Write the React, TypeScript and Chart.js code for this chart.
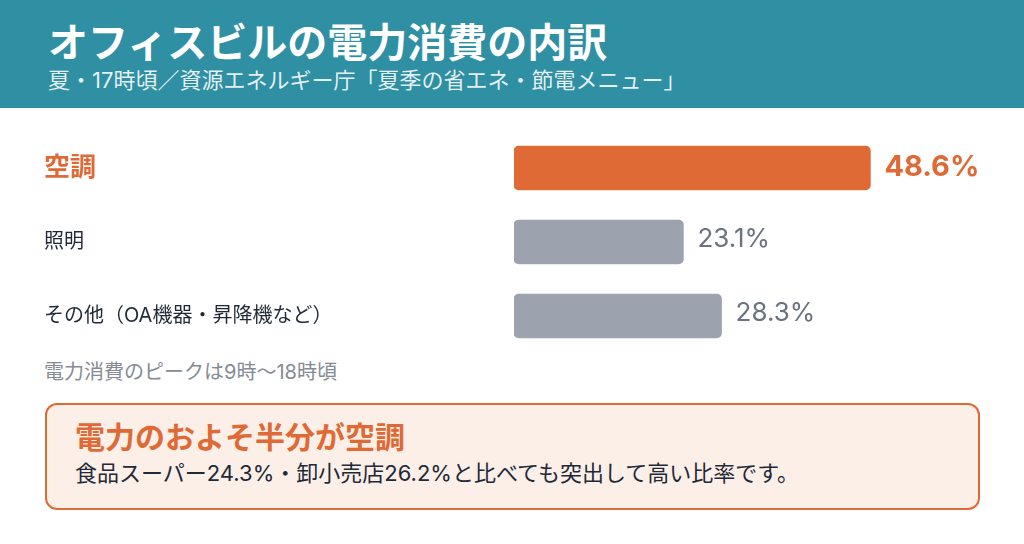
import { useEffect, useRef } from "react";
import Chart from "chart.js/auto";

const categories = ["空調", "照明", "その他（OA機器・昇降機など）"];
const shares = [48.6, 23.1, 28.3];
const valueLabels = ["48.6%", "23.1%", "28.3%"];

const FONT = 'Inter, "Noto Sans CJK JP", "Noto Sans", sans-serif';
const ORANGE = "#e06a35";
const GREY_BAR = "#9ca3af";
const GREY_TEXT = "#6b7280";
const NOTE_GREY = "#858b94";
const DARK = "#1f2937";
const TEAL = "#2f8fa3";

const valueLabelPlugin = {
  id: "valueLabels",
  afterDatasetsDraw(chart: any) {
    const { ctx } = chart;
    const meta = chart.getDatasetMeta(0);
    ctx.save();
    meta.data.forEach((bar: any, i: number) => {
      const first = i === 0;
      ctx.font = `${first ? "bold " : ""}${first ? 29 : 26}px ${FONT}`;
      ctx.fillStyle = first ? ORANGE : GREY_TEXT;
      ctx.textAlign = "left";
      ctx.textBaseline = "middle";
      ctx.fillText(valueLabels[i], bar.x + 14, bar.y - (first ? 1 : 3));
    });
    ctx.restore();
  },
};

export default function App() {
  const canvasRef = useRef<HTMLCanvasElement>(null);

  useEffect(() => {
    document.body.style.margin = "0";
    if (!canvasRef.current) return;

    const chart = new Chart(canvasRef.current, {
      type: "bar",
      data: {
        labels: categories,
        datasets: [
          {
            data: shares,
            backgroundColor: shares.map((_, i) => (i === 0 ? ORANGE : GREY_BAR)),
            borderRadius: 5,
            borderSkipped: false,
            barThickness: 44,
          },
        ],
      },
      options: {
        indexAxis: "y",
        animation: false,
        responsive: false,
        maintainAspectRatio: false,
        layout: { padding: { left: 44, right: 70, top: 0, bottom: 0 } },
        plugins: {
          legend: { display: false },
          tooltip: { enabled: false },
        },
        scales: {
          x: {
            display: false,
            min: 0,
            max: 60,
          },
          y: {
            grid: { display: false },
            border: { display: false },
            afterFit(scale: any) {
              scale.width = 470;
              scale.paddingTop = 0;
              scale.paddingBottom = 0;
            },
            ticks: {
              crossAlign: "far",
              padding: 0,
              color: (c: any) => (c.index === 0 ? ORANGE : DARK),
              font: (c: any) =>
                c.index === 0
                  ? { family: FONT, size: 26, weight: "bold" }
                  : { family: FONT, size: 20, weight: "normal" },
            },
          },
        },
      },
      plugins: [valueLabelPlugin],
    });

    return () => chart.destroy();
  }, []);

  return (
    <div
      style={{
        position: "relative",
        width: 1024,
        height: 544,
        background: "#fff",
        fontFamily: FONT,
        overflow: "hidden",
      }}
    >
      <div
        style={{
          position: "absolute",
          left: 0,
          top: 0,
          width: 1024,
          height: 108,
          background: TEAL,
        }}
      >
        <div
          style={{
            position: "absolute",
            left: 48,
            top: 18,
            color: "#fff",
            fontSize: 40,
            fontWeight: 700,
            lineHeight: "50px",
            whiteSpace: "nowrap",
          }}
        >
          オフィスビルの電力消費の内訳
        </div>
        <div
          style={{
            position: "absolute",
            left: 48,
            top: 65,
            color: "rgba(255,255,255,0.88)",
            fontSize: 22,
            lineHeight: "30px",
            whiteSpace: "nowrap",
          }}
        >
          夏・17時頃／資源エネルギー庁「夏季の省エネ・節電メニュー」
        </div>
      </div>

      <canvas
        ref={canvasRef}
        width={1024}
        height={222}
        style={{ position: "absolute", left: 0, top: 131, width: 1024, height: 222 }}
      />

      <div
        style={{
          position: "absolute",
          left: 44,
          top: 358,
          color: NOTE_GREY,
          fontSize: 20,
          lineHeight: "28px",
          whiteSpace: "nowrap",
        }}
      >
        電力消費のピークは9時〜18時頃
      </div>

      <div
        style={{
          position: "absolute",
          left: 45,
          top: 403,
          width: 935,
          height: 107,
          boxSizing: "border-box",
          border: `2.5px solid ${ORANGE}`,
          borderRadius: 12,
          background: "#fcefe8",
        }}
      >
        <div
          style={{
            position: "absolute",
            left: 28,
            top: 13,
            color: ORANGE,
            fontSize: 30,
            fontWeight: 700,
            lineHeight: "38px",
            whiteSpace: "nowrap",
          }}
        >
          電力のおよそ半分が空調
        </div>
        <div
          style={{
            position: "absolute",
            left: 28,
            top: 53,
            color: DARK,
            fontSize: 22,
            lineHeight: "30px",
            whiteSpace: "nowrap",
          }}
        >
          食品スーパー24.3%・卸小売店26.2%と比べても突出して高い比率です。
        </div>
      </div>
    </div>
  );
}
